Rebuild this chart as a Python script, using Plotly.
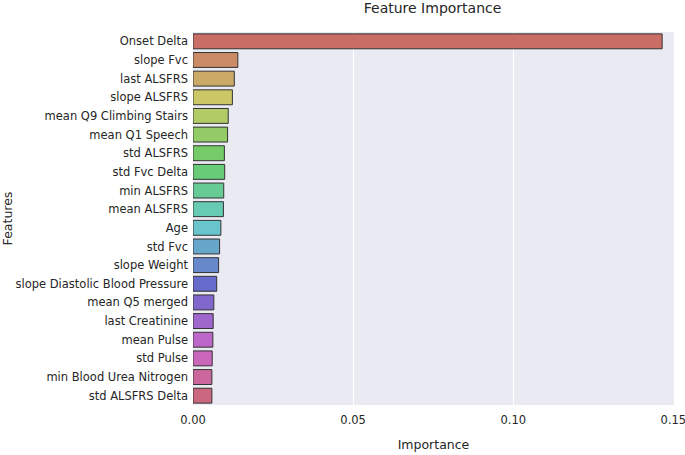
import colorsys
import plotly.graph_objects as go

features = ["Onset Delta", "slope Fvc", "last ALSFRS", "slope ALSFRS", "mean Q9 Climbing Stairs",
            "mean Q1 Speech", "std ALSFRS", "std Fvc Delta", "min ALSFRS", "mean ALSFRS", "Age",
            "std Fvc", "slope Weight", "slope Diastolic Blood Pressure", "mean Q5 merged",
            "last Creatinine", "mean Pulse", "std Pulse", "min Blood Urea Nitrogen", "std ALSFRS Delta"]
importance = [0.1465, 0.0140, 0.0129, 0.0123, 0.0110, 0.0108, 0.0098, 0.0099, 0.0096, 0.0095,
              0.0087, 0.0083, 0.0080, 0.0074, 0.0065, 0.0063, 0.0062, 0.0060, 0.0059, 0.0059]
x_ticks = [0.0, 0.05, 0.10, 0.15]
x_tick_labels = ["0.00", "0.05", "0.10", "0.15"]

# seaborn "hls" palette desaturated like barplot (saturation 0.75)
n = len(features)
colors = []
for i in range(n):
    h = (i / n + 0.01) % 1
    r, g, b = colorsys.hls_to_rgb(h, 0.6, 0.65 * 0.75)
    colors.append(f"rgb({round(r*255)},{round(g*255)},{round(b*255)})")

fig = go.Figure(go.Bar(
    x=importance, y=features, orientation="h",
    marker=dict(color=colors, line=dict(color="#333333", width=1)),
))

font = "DejaVu Sans"
fig.update_layout(
    width=685, height=455,
    margin=dict(l=193, r=11, t=32, b=50),
    paper_bgcolor="white", plot_bgcolor="#EAEAF2",
    bargap=0.2, showlegend=False,
    font=dict(family=font, size=11.5, color="#262626"),
    title=dict(text="Feature Importance", x=0.6315, xanchor="center", y=0.992, yanchor="top",
               font=dict(family=font, size=14, color="#262626")),
)
fig.update_xaxes(range=[0, 0.1502], tickvals=x_ticks, ticktext=x_tick_labels,
                 showgrid=True, gridcolor="white", gridwidth=1, zeroline=False,
                 showline=False, ticks="", ticklabelstandoff=6, automargin=False,
                 ticklabeloverflow="allow",
                 title=dict(text="Importance", standoff=14, font=dict(size=12.5)))
fig.update_yaxes(autorange="reversed", showgrid=False, zeroline=False, showline=False,
                 ticks="", ticklabelstandoff=4, automargin=False,
                 title=dict(text="Features", standoff=8, font=dict(size=12.5)))

fig.write_html("out.html", config={"displayModeBar": False},
               post_script="document.body.style.margin='0';")
